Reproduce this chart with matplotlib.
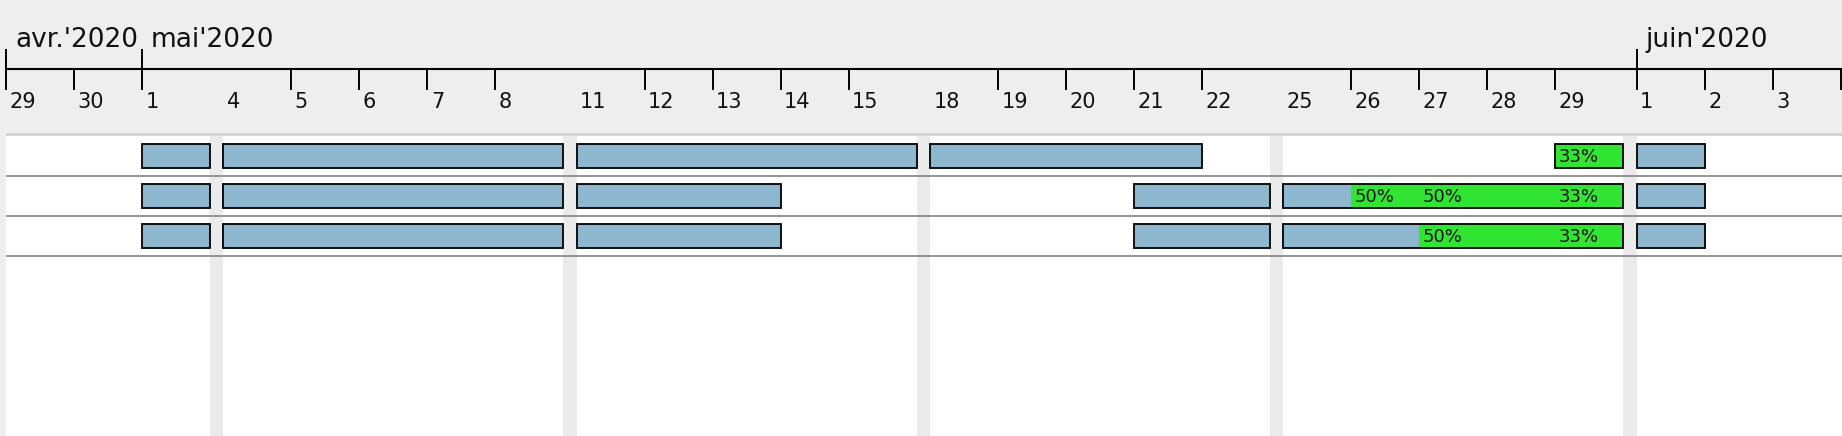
"""
Gantt chart, avr.-juin 2020, weekends collapsed to narrow grey bands.
Output: out.png (1842x436)
"""

import datetime as dt
import matplotlib.pyplot as plt

# ─── Canvas ───────────────────────────────────────────────────────────────────
W, H, DPI = 1842, 436, 100
X0       = 6.0       # px where the timeline starts
DAY_PX   = 68.0      # px per working day
WEEKEND  = 0.196     # collapsed weekend width, in days
HEADER_H = 135.7     # px
ROW_PX   = 40.0

BLUE  = "#8DB6CF"
GREEN = "#33E533"
GREY  = "#EEEEEE"
WKND  = "#EBEBEB"

# ─── Data ─────────────────────────────────────────────────────────────────────
FIRST_DAY = "2020-04-29"
LAST_DAY  = "2020-06-04"

MONTH_LABELS = ["avr.'2020", "mai'2020", "juin'2020"]
MONTH_STARTS = ["2020-04-29", "2020-05-01", "2020-06-01"]

# (start, end, green_from)
ROW1_BARS = [("2020-05-01", "2020-05-01", None),
             ("2020-05-04", "2020-05-08", None),
             ("2020-05-11", "2020-05-15", None),
             ("2020-05-18", "2020-05-21", None),
             ("2020-05-29", "2020-05-29", "2020-05-29"),
             ("2020-06-01", "2020-06-01", None)]
ROW2_BARS = [("2020-05-01", "2020-05-01", None),
             ("2020-05-04", "2020-05-08", None),
             ("2020-05-11", "2020-05-13", None),
             ("2020-05-21", "2020-05-22", None),
             ("2020-05-25", "2020-05-29", "2020-05-26"),
             ("2020-06-01", "2020-06-01", None)]
ROW3_BARS = [("2020-05-01", "2020-05-01", None),
             ("2020-05-04", "2020-05-08", None),
             ("2020-05-11", "2020-05-13", None),
             ("2020-05-21", "2020-05-22", None),
             ("2020-05-25", "2020-05-29", "2020-05-27"),
             ("2020-06-01", "2020-06-01", None)]

ROW1_LOADS = [("2020-05-29", "33%")]
ROW2_LOADS = [("2020-05-26", "50%"), ("2020-05-27", "50%"), ("2020-05-29", "33%")]
ROW3_LOADS = [("2020-05-27", "50%"), ("2020-05-29", "33%")]

ROWS = [(ROW1_BARS, ROW1_LOADS), (ROW2_BARS, ROW2_LOADS), (ROW3_BARS, ROW3_LOADS)]


# ─── Collapsed-weekend time scale ─────────────────────────────────────────────
def build_scale():
    d = dt.date.fromisoformat(FIRST_DAY)
    end = dt.date.fromisoformat(LAST_DAY)
    starts, weekends, mondays = {}, [], set()
    pos, after_weekend = 0.0, False
    while d <= end:
        if d.weekday() < 5:
            starts[d] = pos
            if after_weekend:
                mondays.add(d)
            after_weekend = False
            pos += 1
        elif d.weekday() == 5:
            weekends.append(pos)
            pos += WEEKEND
            after_weekend = True
        d += dt.timedelta(days=1)
    return starts, weekends, mondays


STARTS, WEEKENDS, MONDAYS = build_scale()


def xpos(s):
    return STARTS[dt.date.fromisoformat(s)]


XMIN = -X0 / DAY_PX
XMAX = (W - X0) / DAY_PX

fig = plt.figure(figsize=(W / DPI, H / DPI), dpi=DPI)
fig.patch.set_facecolor(GREY)
plt.rcParams["font.family"] = ["DejaVu Sans"]

# ─── Body (task rows) ─────────────────────────────────────────────────────────
body_h = H - HEADER_H
ax = fig.add_axes([0, 0, 1, body_h / H])
ax.set_facecolor(GREY)
ax.set_xlim(XMIN, XMAX)
ax.set_ylim(body_h / ROW_PX, 0)
ax.axis("off")

ax.axvspan(0, XMAX, color="white", zorder=0)
for w in WEEKENDS:
    ax.axvspan(w, w + WEEKEND, color=WKND, lw=0, zorder=1)
ax.hlines(range(1, len(ROWS) + 1), 0, XMAX, color="#838383", lw=1.2, zorder=2)

for i, (bars, loads) in enumerate(ROWS):
    yc = i + 0.5
    for s, e, g in bars:
        x1, x2 = xpos(s), xpos(e) + 1
        ax.barh(yc, x2 - x1, left=x1, height=0.6, color=BLUE, lw=0, zorder=3)
        if g is not None:
            xg = xpos(g)
            ax.barh(yc, x2 - xg, left=xg, height=0.6, color=GREEN, lw=0, zorder=4)
        ax.barh(yc, x2 - x1, left=x1, height=0.6, fill=False,
                edgecolor="black", lw=1.3, zorder=5)
    for d, txt in loads:
        ax.text(xpos(d) + 3.6 / DAY_PX, yc + 0.02, txt, fontsize=13,
                ha="left", va="center", color="#111111", zorder=6)

# ─── Header (timeline) ────────────────────────────────────────────────────────
hx = fig.add_axes([0, body_h / H, 1, HEADER_H / H])
hx.set_facecolor(GREY)
hx.set_xlim(XMIN, XMAX)
hx.set_ylim(HEADER_H, 0)
hx.axis("off")

hx.axhspan(132.7, HEADER_H, xmin=X0 / W, color="#D4D4D4", lw=0)
hx.hlines(69.5, 0, XMAX, color="black", lw=1.5)

month_days = {dt.date.fromisoformat(m) for m in MONTH_STARTS}
for d, x in STARTS.items():
    if d in month_days:
        hx.vlines(x, 49, 90.5, color="black", lw=1.4)
    elif d not in MONDAYS:
        hx.vlines(x, 69.5, 90.5, color="black", lw=1.4)
    if d < dt.date.fromisoformat(LAST_DAY):
        hx.text(x + 3.5 / DAY_PX, 108.3, str(d.day), fontsize=15,
                ha="left", va="baseline", color="#111111")

for lbl, m in zip(MONTH_LABELS, MONTH_STARTS):
    hx.text(xpos(m) + 9 / DAY_PX, 46.6, lbl, fontsize=19,
            ha="left", va="baseline", color="#111111")

fig.savefig("out.png", dpi=DPI, facecolor=fig.get_facecolor())
